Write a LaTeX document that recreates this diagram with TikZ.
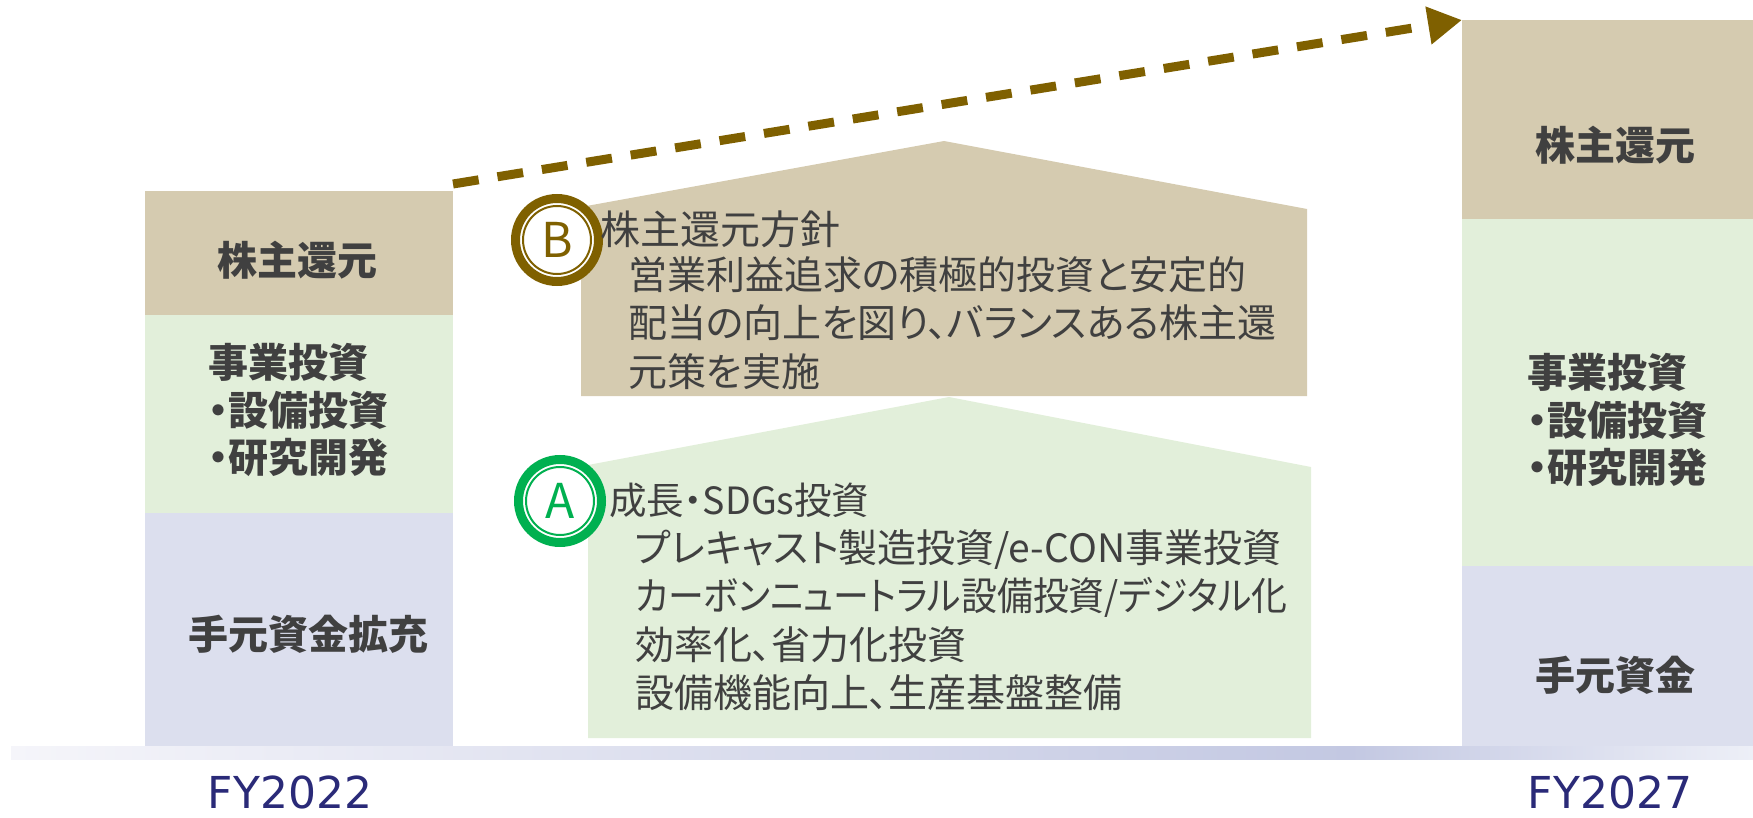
\documentclass[tikz,border=0pt]{standalone}
\usepackage{fontspec}
\usetikzlibrary{arrows.meta,calc}
\newfontfamily\jp[RawFeature=+palt]{Noto Sans CJK JP}
\newfontfamily\fyfont{DejaVu Sans}
\definecolor{cTan}{HTML}{D5CBB0}
\definecolor{cGreen}{HTML}{E2EFDA}
\definecolor{cBlue}{HTML}{DCDFEE}
\definecolor{cOlive}{HTML}{7F6000}
\definecolor{cAgreen}{HTML}{00B050}
\definecolor{cText}{HTML}{404040}
\definecolor{cFY}{HTML}{2A2A78}
\definecolor{cBarL}{HTML}{F5F5FA}
\definecolor{cBarM}{HTML}{C3C8E2}
\definecolor{cBarR}{HTML}{EDEFF7}
\tikzset{
  blk/.style={rectangle, inner sep=0pt, outer sep=0pt, draw=none, anchor=north west},
  lbl/.style={font=\jp\bfseries\fontsize{40}{47.5}\selectfont, text=cText, inner sep=0pt, align=left},
  body/.style={font=\jp\fontsize{39}{48.5}\selectfont, text=cText, inner sep=0pt, align=left, anchor=west},
  ring/.style={circle, fill=white, line width=9pt, minimum size=83pt, inner sep=0pt},
  letter/.style={font=\jp\fontsize{48}{48}\selectfont, inner sep=0pt},
  fy/.style={font=\fyfont\fontsize{44}{44}\selectfont, text=cFY, inner sep=0pt}
}
\begin{document}
\begin{tikzpicture}[x=1pt,y=-1pt]
\useasboundingbox (0,0) rectangle (1753,818);
% base bar
\shade[left color=cBarL, right color=cBarM] (11,746) rectangle (1350,759);
\shade[left color=cBarM, right color=cBarR] (1350,746) rectangle (1753,759);
% left column
\node[blk, fill=cTan, minimum width=308pt, minimum height=124pt] (ltan) at (145,191) {};
\node[blk, fill=cGreen, minimum width=308pt, minimum height=198pt] (lgreen) at (145,315) {};
\node[blk, fill=cBlue, minimum width=308pt, minimum height=233pt] (lblue) at (145,513) {};
% right column
\node[blk, fill=cTan, minimum width=291pt, minimum height=199pt] (rtan) at (1462,20) {};
\node[blk, fill=cGreen, minimum width=291pt, minimum height=347pt] (rgreen) at (1462,219) {};
\node[blk, fill=cBlue, minimum width=291pt, minimum height=180pt] (rblue) at (1462,566) {};
% pentagons
\fill[cTan] (581,396) -- (581,207) -- (944,141) -- (1307,209) -- (1307,396) -- cycle;
\fill[cGreen] (588,738) -- (588,465) -- (949,397) -- (1311,467) -- (1311,738) -- cycle;
% column labels
\node[lbl] (ltantxt) at (297,260) {株主還元};
\node[lbl] (lgreentxt) at (298,410) {事業投資\\・設備投資\\・研究開発};
\node[lbl] (lbluetxt) at (308,634) {手元資金拡充};
\node[lbl] (rtantxt) at (1615,145) {株主還元};
\node[lbl] (rgreentxt) at (1617,420) {事業投資\\・設備投資\\・研究開発};
\node[lbl] (rbluetxt) at (1615,675) {手元資金};
% circles
\node[ring, draw=cOlive] (bcirc) at (557,240) {};
\draw[cOlive, line width=2pt] (bcirc.center) circle[radius=34];
\node[letter, text=cOlive] (bletter) at (bcirc.center) {B};
\node[ring, draw=cAgreen] (acirc) at (560,501) {};
\draw[cAgreen, line width=2pt] (acirc.center) circle[radius=34];
\node[letter, text=cAgreen] (aletter) at (acirc.center) {A};
% B texts
\node[body, font=\jp\fontsize{40}{48}\selectfont] (btitle) at (600,229) {株主還元方針};
\node[body] (bbody) at (628,323) {営業利益追求の積極的投資と安定的\\配当の向上を図り、バランスある株主還\\元策を実施};
% A texts
\node[body, font=\jp\fontsize{37.5}{48}\selectfont] (atitle) at (609,500) {成長・SDGs投資};
\node[body] (abody) at (635,620) {プレキャスト製造投資/e-CON事業投資\\\scalebox{0.92}[1]{カーボンニュートラル設備投資/デジタル化}\\効率化、省力化投資\\設備機能向上、生産基盤整備};
% arrow
\coordinate (astart) at (453,184);
\draw[cOlive, line width=9pt, dash pattern=on 26pt off 19pt, -{Triangle[length=34pt,width=36pt]}] (astart) -- (rtan.north west);
% FY labels
\node[fy] (fy22) at (290,792) {FY2022};
\node[fy] (fy27) at (1610,792) {FY2027};
\end{tikzpicture}
\end{document}
